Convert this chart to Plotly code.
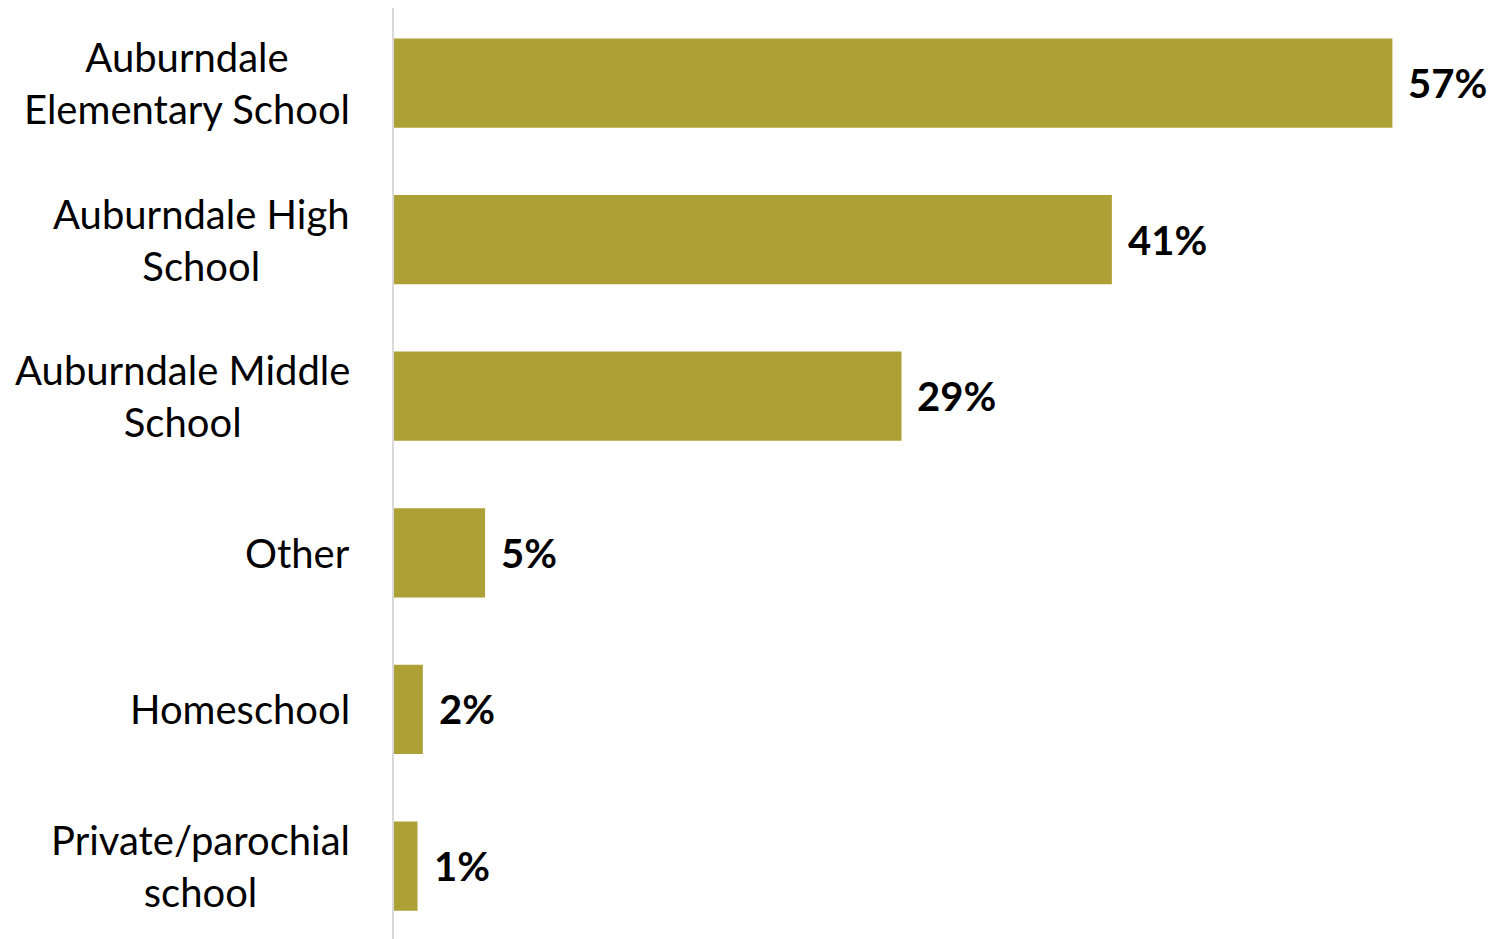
import plotly.graph_objects as go

categories = ["Auburndale<br>Elementary School", "Auburndale High<br>School",
              "Auburndale Middle<br>School", "Other", "Homeschool",
              "Private/parochial<br>school"]
values = [57.0, 41.0, 29.0, 5.25, 1.7, 1.4]
labels = ["57%", "41%", "29%", "5%", "2%", "1%"]

BAR = "#ADA035"
FONT = "Source Sans Pro, Lato, Open Sans, sans-serif"

fig = go.Figure(go.Bar(
    y=list(range(len(categories))), x=values, orientation="h",
    marker=dict(color=BAR, line=dict(width=0)),
    hoverinfo="skip",
))

ann = []
for i, (c, v, t) in enumerate(zip(categories, values, labels)):
    ann.append(dict(x=0, xref="paper", y=i, yref="y", text=c, showarrow=False,
                    xanchor="right", yanchor="middle", align="center", xshift=-41,
                    font=dict(family=FONT, size=40, color="#000")))
    ann.append(dict(x=v, xref="x", y=i, yref="y", text="<b>%s</b>" % t, showarrow=False,
                    xanchor="left", yanchor="middle", xshift=14,
                    font=dict(family=FONT, size=40, color="#000")))

fig.update_layout(
    width=1488, height=931,
    margin=dict(l=385, r=51, t=0, b=0),
    paper_bgcolor="white", plot_bgcolor="white",
    bargap=0.43, showlegend=False,
    annotations=ann,
    xaxis=dict(range=[0, 60], visible=False, fixedrange=True),
    yaxis=dict(range=[5.466, -0.479], showticklabels=False,
               showgrid=False, zeroline=False, ticks="",
               showline=False, fixedrange=True),
    shapes=[dict(type="line", xref="paper", yref="paper", x0=0, x1=0, y0=0, y1=1,
                 line=dict(color="#D9D9D9", width=2))],
)

fig.write_html("out.html")
